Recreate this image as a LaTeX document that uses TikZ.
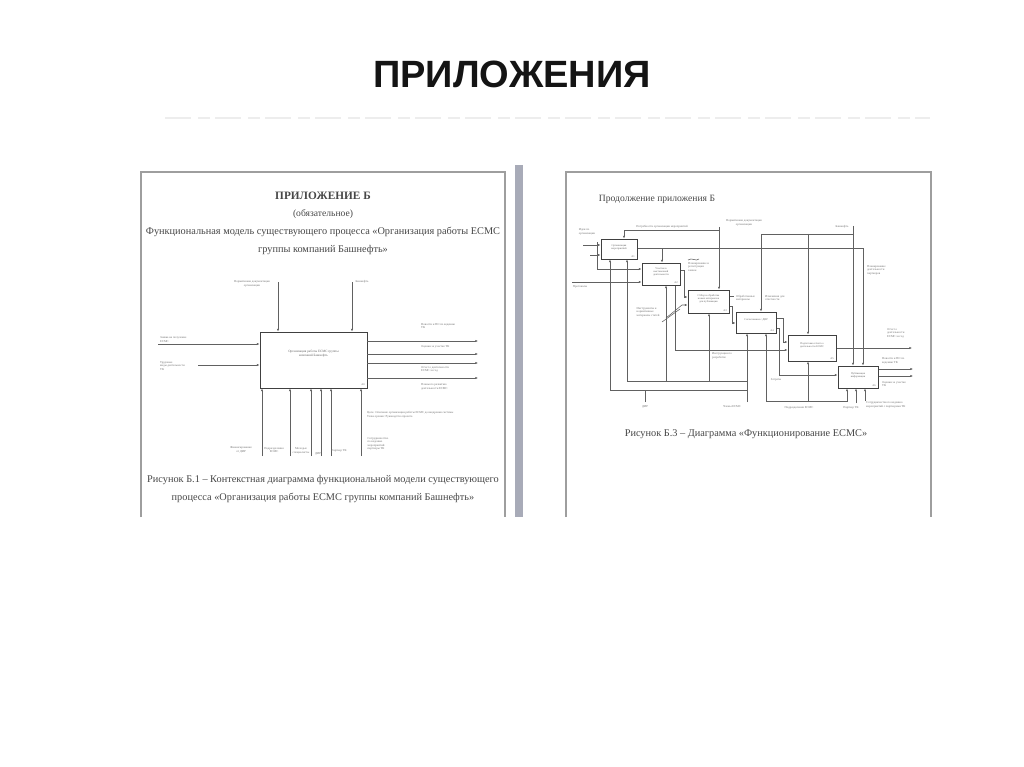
\documentclass[tikz,border=0pt]{standalone}
\usepackage{fontspec}
\setmainfont{Liberation Serif}
\newfontfamily\titlefont{Liberation Sans}
\usetikzlibrary{arrows.meta}
\begin{document}
\begin{tikzpicture}[x=1pt,y=-1pt,
 doc/.style={inner sep=0pt, text=black!72, font=\fontsize{10.3}{12}\selectfont},
 tiny/.style={inner sep=0pt, text=black!55, font=\fontsize{3}{3.5}\selectfont, align=center},
 btxt/.style={inner sep=0pt, text=black!60, font=\fontsize{2.7}{3.2}\selectfont, align=center},
 page/.style={draw=black!38, line width=1.3pt},
 fbox/.style={draw=black!75, line width=0.9pt, inner sep=0pt},
 ln/.style={draw=black!62, line width=0.55pt},
 arr/.style={ln, -{Latex[length=2.6pt,width=2.2pt]}},
]
\fill[white] (0,0) rectangle (1024,767);
\useasboundingbox (0,0) rectangle (1024,767);

% title
\node[inner sep=0pt, font=\titlefont\bfseries\fontsize{38}{40}\selectfont, text=black!92] (title) at (512,74) {ПРИЛОЖЕНИЯ};
\draw[black!7, line width=2.2pt, dash pattern=on 26pt off 7pt on 12pt off 5pt] (165,118) -- (930,118);

% pages
\draw[page] (141,517) -- (141,172) -- (505,172) -- (505,517);
\fill[fill={rgb,255:red,168;green,171;blue,184}] (515,165) rectangle (523,517);
\draw[page] (566,517) -- (566,172) -- (931,172) -- (931,517);

% ---------------- left page ----------------
\node[doc, font=\bfseries\fontsize{11.3}{13}\selectfont] (lh1) at (323,196) {ПРИЛОЖЕНИЕ Б};
\node[doc, font=\fontsize{9.6}{11}\selectfont] (lh2) at (323,214) {(обязательное)};
\node[doc] (lh3) at (323,232) {Функциональная модель существующего процесса «Организация работы ЕСМС};
\node[doc] (lh4) at (323,250) {группы компаний Башнефть»};

\node[fbox, minimum width=107pt, minimum height=56pt] (A0) at (313.5,360) {};
\node[btxt, font=\fontsize{3.3}{4}\selectfont] (A0t) at (313.5,354) {Организация работы ЕСМС группы\\компаний Башнефть};
\node[btxt] (A0n) at (363,385) {А0};

% controls
\coordinate (lc1) at (278,282);
\coordinate (lc2) at (352,282);
\draw[arr] (lc1) -- (lc1 |- A0.north);
\draw[arr] (lc2) -- (lc2 |- A0.north);
\node[tiny] (lc1t) at (252,284) {Нормативная документация\\организации};
\node[tiny] (lc2t) at (362,282) {Башнефть};

% inputs
\coordinate (li1) at (158,344);
\coordinate (li2) at (198,365);
\draw[arr] (li1) -- (A0.west |- li1);
\draw[arr] (li2) -- (A0.west |- li2);
\node[tiny, anchor=south west, align=left] (li1t) at (160,342.5) {Заявка на получение\\ЕСМС};
\node[tiny, anchor=west, align=left] (li2t) at (160,366) {Трудовые\\виды деятельности\\ТК};

% outputs
\coordinate (lo1) at (478,341);
\coordinate (lo2) at (478,354);
\coordinate (lo3) at (478,363);
\coordinate (lo4) at (478,378);
\draw[arr] (A0.east |- lo1) -- (lo1);
\draw[arr] (A0.east |- lo2) -- (lo2);
\draw[arr] (A0.east |- lo3) -- (lo3);
\draw[arr] (A0.east |- lo4) -- (lo4);
\node[tiny, anchor=west, align=left] (lo1t) at (421,326) {Новости и ПО по ведению\\ТК};
\node[tiny, anchor=west, align=left] (lo2t) at (421,347) {Оценки за участие ТК};
\node[tiny, anchor=west, align=left] (lo3t) at (421,369.5) {Отчет о деятельности\\ЕСМС за год};
\node[tiny, anchor=west, align=left] (lo4t) at (421,387) {Планы по развитию\\деятельности ЕСМС};
\node[tiny, anchor=west, align=left] (note) at (367,414.5) {Цель: Описание организации работы ЕСМС до внедрения системы\\Точка зрения: Руководство проекта};

% mechanisms
\coordinate (lm1) at (262,456);
\coordinate (lm2) at (290,456);
\coordinate (lm3) at (311,456);
\coordinate (lm4) at (321,456);
\coordinate (lm5) at (331,456);
\coordinate (lm6) at (361,456);
\foreach \m in {lm1,lm2,lm3,lm4,lm5,lm6} \draw[arr] (\m) -- (\m |- A0.south);
\node[tiny] (lm1t) at (241,450) {Финансирование\\от ДИР};
\node[tiny] (lm2t) at (274,450) {Подразделения\\ЕСМС};
\node[tiny] (lm3t) at (301,451) {Молодые\\специалисты};
\node[tiny] (lm4t) at (318,454) {ДИР};
\node[tiny] (lm5t) at (339,451) {Партнер ТК};
\node[tiny, align=left] (lm6t) at (378,444) {Сотрудничество\\по ведению\\мероприятий\\партнеры ТК};

\node[doc] (lc1c) at (323,480) {Рисунок Б.1 – Контекстная диаграмма функциональной модели существующего};
\node[doc] (lc2c) at (323,498) {процесса «Организация работы ЕСМС группы компаний Башнефть»};

% ---------------- right page ----------------
\node[doc, font=\fontsize{9.6}{11}\selectfont] (rh) at (657,199) {Продолжение приложения Б};

\tikzset{rbox/.style={fbox, line width=1pt}}
\node[rbox, minimum width=36pt, minimum height=20pt] (B1) at (619,249) {};
\node[rbox, minimum width=38pt, minimum height=22pt] (B2) at (661,274) {};
\node[rbox, minimum width=41pt, minimum height=23pt] (B3) at (708.5,301.5) {};
\node[rbox, minimum width=40pt, minimum height=21pt] (B4) at (756,322.5) {};
\node[rbox, minimum width=48pt, minimum height=26pt] (B5) at (812,348) {};
\node[rbox, minimum width=40pt, minimum height=22pt] (B6) at (858,377) {};
\node[btxt] (B1t) at (619,247) {Организация\\мероприятий};
\node[btxt] (B2t) at (661,272) {Участие в\\выставочной\\деятельности};
\node[btxt] (B3t) at (708.5,299) {Отбор и обработка\\новых материалов\\для публикации};
\node[btxt] (B4t) at (756,320) {Согласование с ДИР};
\node[btxt] (B5t) at (812,345) {Подготовка отчета о\\деятельности ЕСМС};
\node[btxt] (B6t) at (858,375) {Публикация\\информации};
\node[btxt] (B1n) at (633,256.5) {А1};
\node[btxt] (B2n) at (676,282.5) {А2};
\node[btxt] (B3n) at (725,310.5) {А3};
\node[btxt] (B4n) at (772,330.5) {А4};
\node[btxt] (B5n) at (832,358.5) {А5};
\node[btxt] (B6n) at (874,385.5) {А6};

% controls
\coordinate (nd) at (719,227);
\coordinate (nj) at (719,230);
\coordinate (nb) at (624,230);
\draw[arr] (nd) -- (nd |- B3.north);
\draw[arr] (nj) -- (nb) -- (nb |- B1.north);
\node[tiny] (ndt) at (744,223) {Нормативная документация\\организации};
\node[tiny] (nbt) at (662,227) {Потребности организации мероприятий};

\coordinate (bn) at (853,226);
\coordinate (bj) at (853,234);
\coordinate (b4) at (761,234);
\coordinate (b5) at (808,234);
\draw[arr] (bn) -- (bn |- B6.north);
\draw[arr] (bj) -- (b4) -- (b4 |- B4.north);
\draw[arr] (b5) -- (b5 |- B5.north);
\node[tiny] (bnt) at (842,227) {Башнефть};

% B1 output feeding B2 and B6 controls
\coordinate (o1r) at (863,248);
\coordinate (o1b) at (662,248);
\draw[arr] (B1.east |- o1r) -- (o1r) -- (o1r |- B6.north);
\draw[arr] (o1b) -- (o1b |- B2.north);
\node[tiny, align=left, anchor=west] (o1t) at (867,270) {Планирование\\деятельности\\партнеров};

% B1 inputs
\coordinate (i11) at (583,245);
\coordinate (i12) at (590,255);
\draw[arr] (i11) -- (B1.west |- i11);
\draw[arr] (i12) -- (B1.west |- i12);
\node[tiny, align=left] (i1t) at (587,232) {Идеи по\\организации};
% B2 inputs
\coordinate (i21) at (597,242);
\coordinate (i21b) at (597,269);
\coordinate (i22) at (572,282);
\draw[arr] (i21) -- (i21b) -- (B2.west |- i21b);
\draw[arr] (i22) -- (B2.west |- i22);
\node[tiny] (i22t) at (580,287) {Протоколы};

% B2 -> B3
\coordinate (o2a) at (684,270);
\coordinate (o2b) at (684,297);
\draw[arr] (B2.east |- o2a) -- (o2a) -- (o2b) -- (B3.west |- o2b);
\node[tiny, align=left, anchor=west] (o2t) at (688,267) {Планирование и\\регистрация\\заявок};
\draw[ln] (688,260) .. controls (692,257) and (696,262) .. (699,259);

% B2 bottom output -> B5
\coordinate (o2c) at (675,350);
\draw[arr] (o2c |- B2.south) -- (o2c) -- (B5.west |- o2c);
\node[tiny, align=left, anchor=west] (o2ct) at (712,356) {Инструкции по\\разработке};

% materials to B3
\coordinate (mt) at (666,318);
\coordinate (mt2) at (682,305);
\draw[arr] (mt) -- (mt2) -- (B3.west |- mt2);
\draw[ln] (662,322) -- (680,309);
\node[tiny, align=left] (mtt) at (648,312) {Инструменты и\\нормативные\\материалы статей};

% B3 -> B4
\coordinate (o3a) at (732,306);
\coordinate (o3b) at (732,323);
\draw[arr] (B3.east |- o3a) -- (o3a) -- (o3b) -- (B4.west |- o3b);
\draw[ln] (B3.east |- 0,296) -- (734,296);
\node[tiny, align=left, anchor=west] (o3t) at (736,298) {Обработанные\\материалы};

% B4 -> B5, B4 -> B6
\coordinate (o4a) at (783,318);
\coordinate (o4b) at (783,342);
\draw[arr] (B4.east |- o4a) -- (o4a) -- (o4b) -- (B5.west |- o4b);
\coordinate (o4c) at (779,328);
\coordinate (o4d) at (779,375);
\draw[arr] (B4.east |- o4c) -- (o4c) -- (o4d) -- (B6.west |- o4d);
\node[tiny] (o4t) at (776,380) {Затраты};
\node[tiny, align=left, anchor=west] (izt) at (765,298) {Изменения для\\отчетности};

% outputs
\coordinate (o5) at (912,348);
\draw[arr] (B5.east |- o5) -- (o5);
\node[tiny, align=left, anchor=west] (o5t) at (887,333) {Отчет о\\деятельности\\ЕСМС за год};
\coordinate (o61) at (913,369);
\coordinate (o62) at (913,376);
\draw[arr] (B6.east |- o61) -- (o61);
\draw[arr] (B6.east |- o62) -- (o62);
\node[tiny, align=left, anchor=west] (o61t) at (882,361) {Новости и ПО по\\ведению ТК};
\node[tiny, align=left, anchor=west] (o62t) at (882,384) {Оценки за участие\\ТК};

% mechanisms
\coordinate (m1) at (610,390);
\coordinate (m2) at (627,381);
\coordinate (mE) at (747,390);
\coordinate (mE2) at (747,381);
\draw[arr] (mE) -- (m1) -- (m1 |- B1.south);
\draw[arr] (mE2) -- (m2) -- (m2 |- B1.south);
\coordinate (dir) at (645,402);
\coordinate (dirj) at (645,390);
\draw[ln] (dir) -- (dirj);
\node[tiny] (dirt) at (645,407) {ДИР};
\coordinate (m3) at (666,381);
\coordinate (m4) at (709,381);
\draw[arr] (m3) -- (m3 |- B2.south);
\draw[arr] (m4) -- (m4 |- B3.south);
\coordinate (chl) at (747,402);
\draw[arr] (chl) -- (chl |- B4.south);
\node[tiny] (chlt) at (732,407) {Члены ЕСМС};

\coordinate (pd) at (808,402);
\coordinate (pd4) at (766,401);
\coordinate (pd6) at (847,401);
\draw[arr] (pd) -- (pd |- B5.south);
\draw[arr] (pd4) -- (pd4 |- B4.south);
\draw[arr] (pd4) -- (pd6) -- (pd6 |- B6.south);
\node[tiny] (pdt) at (799,408) {Подразделения ЕСМС};
\coordinate (pt) at (856,403);
\draw[arr] (pt) -- (pt |- B6.south);
\node[tiny] (ptt) at (851,408) {Партнер ТК};
\coordinate (st) at (865,401);
\draw[arr] (st) -- (st |- B6.south);
\node[tiny, align=left, anchor=west] (stt) at (866,405) {Сотрудничество по ведению\\мероприятий с партнерами ТК};

\node[doc] (rc) at (746,434) {Рисунок Б.3 – Диаграмма «Функционирование ЕСМС»};
\end{tikzpicture}
\end{document}
